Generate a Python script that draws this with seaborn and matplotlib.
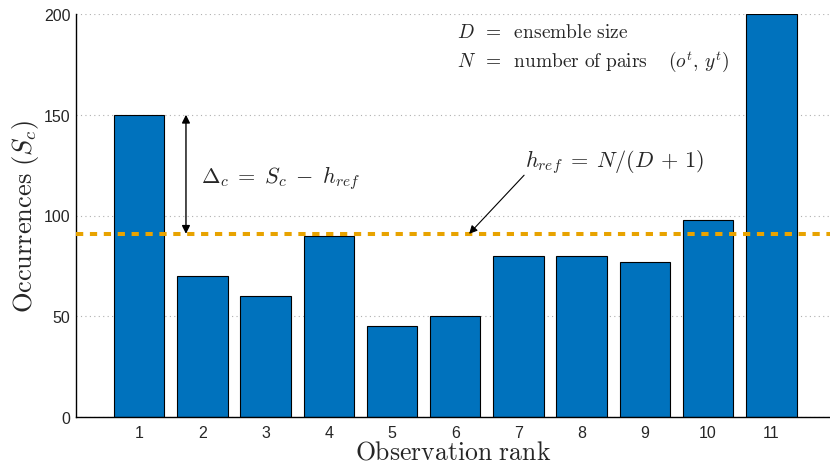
import numpy as np
import pandas as pd
import matplotlib
matplotlib.use("Agg")
import matplotlib.pyplot as plt
import seaborn as sns

# Rank histogram counts
ranks = [1, 2, 3, 4, 5, 6, 7, 8, 9, 10, 11]
counts = [150, 70, 60, 90, 45, 50, 80, 80, 77, 98, 200]
y_ticks = [0, 50, 100, 150, 200]

df = pd.DataFrame({"rank": ranks, "count": counts})
D = len(ranks) - 1
N = sum(counts)
h_ref = N / (D + 1)

sns.set_theme(style="white")
plt.rcParams["font.family"] = ["Liberation Sans", "DejaVu Sans"]
plt.rcParams["mathtext.fontset"] = "cm"

fig = plt.figure(figsize=(8.3, 4.64), dpi=100)
ax = fig.add_axes([76 / 830, 46 / 464, 1 - 76 / 830, 403 / 464])

ax.set_axisbelow(True)
ax.yaxis.grid(True, linestyle=(0, (1, 3)), color="#b0b0b0", linewidth=0.8)

sns.barplot(data=df, x="rank", y="count", native_scale=True, width=0.8,
            color="#0072BD", saturation=1, edgecolor="black", linewidth=0.8,
            ax=ax, zorder=2)

ax.axhline(h_ref, color="#E8A300", linewidth=2.9,
           linestyle=(0, (1.8, 1.65)), zorder=4)

ax.set_xlim(0, 11.93)
ax.set_ylim(0, 200)
ax.set_xticks(ranks)
ax.set_xticklabels([str(r) for r in ranks])
ax.set_yticks(y_ticks)
ax.tick_params(axis="y", direction="in", length=10, width=0.9, color="#333333",
               labelsize=11.5, pad=4)
ax.tick_params(axis="x", length=0, labelsize=11.5, pad=6)

for side in ["top", "right"]:
    ax.spines[side].set_visible(False)
for side in ["left", "bottom"]:
    ax.spines[side].set_color("black")
    ax.spines[side].set_linewidth(1.0)

ax.set_xlabel(r"$\mathrm{Observation\ rank}$", fontsize=18.5)
ax.xaxis.label.set_va("baseline")
ax.xaxis.set_label_coords(0.5, (418 - 460) / 403)
ax.set_ylabel(r"$\mathrm{Occurrences}\ (S_c)$", fontsize=19, labelpad=2)

# Deviation arrow between bar 1 and the reference level
ax.annotate("", xy=(1.74, h_ref), xytext=(1.74, counts[0]),
            arrowprops=dict(arrowstyle="<|-|>", color="black", lw=1.0,
                            mutation_scale=12, shrinkA=0, shrinkB=0), zorder=5)
ax.text(1.97, 119, r"$\Delta_c\;=\;S_c\;-\;h_{ref}$", fontsize=16,
        va="center", ha="left")

# Reference level label and pointer to the dashed line
ax.text(7.1, 127, r"$h_{ref}\;=\;N/(D\,+\,1)$", fontsize=16,
        va="center", ha="left")
ax.annotate("", xy=(6.22, h_ref), xytext=(7.09, 120),
            arrowprops=dict(arrowstyle="-|>", color="black", lw=0.8,
                            mutation_scale=12, shrinkA=0, shrinkB=0), zorder=5)

ax.text(6.03, 191, r"$D\;\;=\;\;\mathrm{ensemble\ size}$", fontsize=14,
        va="center", ha="left")
ax.text(6.03, 177, r"$N\;\;=\;\;\mathrm{number\ of\ pairs}\quad\;(o^t,\, y^t)$",
        fontsize=14, va="center", ha="left")

fig.savefig("out.png", dpi=100)
